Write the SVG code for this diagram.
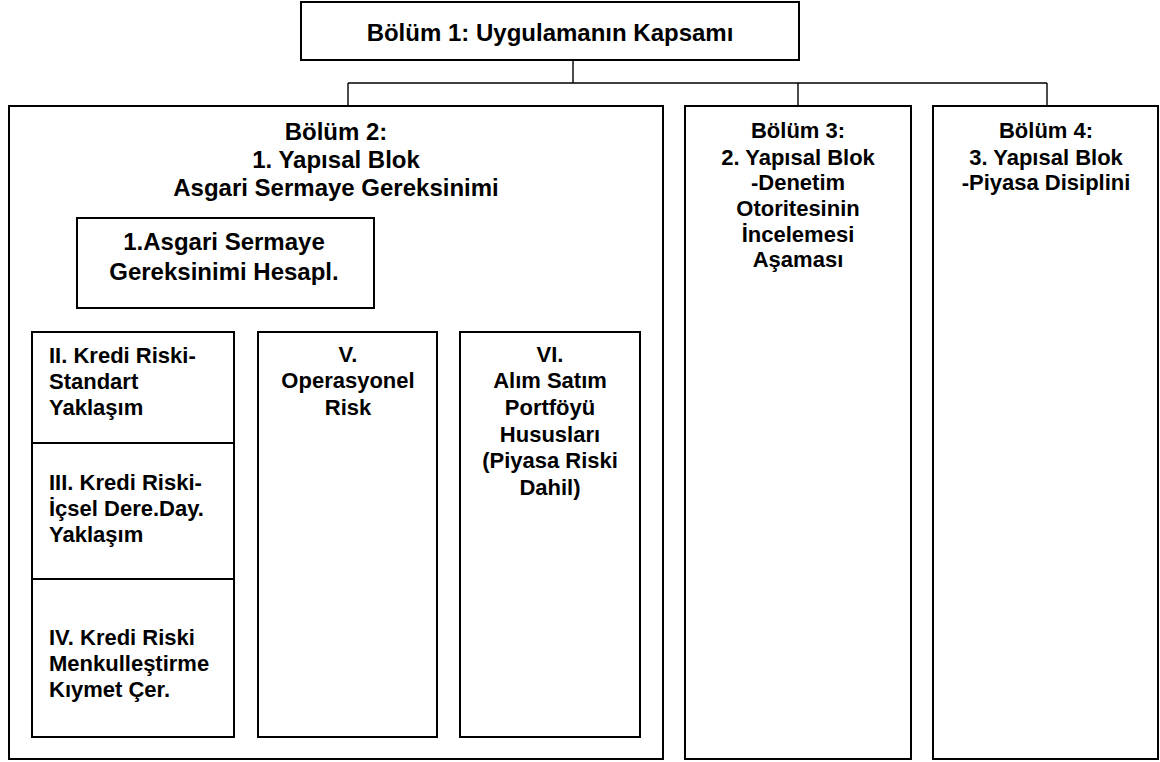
<svg xmlns="http://www.w3.org/2000/svg" width="1160" height="762" viewBox="0 0 1160 762">
  <style>
    .box { fill: #ffffff; stroke: #000000; stroke-width: 2; }
    .div { fill: none; stroke: #000000; stroke-width: 2; }
    .link { fill: none; stroke: #000000; stroke-width: 1.4; }
    text { font-family: "Liberation Sans", Arial, sans-serif; font-weight: bold; fill: #000000; }
    .c { text-anchor: middle; }
    .l { text-anchor: start; }
    .t24 { font-size: 24px; }
    .t22 { font-size: 22px; }
  </style>
  <rect x="0" y="0" width="1160" height="762" fill="#ffffff"/>

  <!-- connectors -->
  <g id="connectors">
    <path class="link" d="M573 60 V83 M348 83 H1047 M348 83 V106 M798 83 V106 M1047 83 V106"/>
    <path class="link" d="M374 308 H549 M122 308 V332 M348 308 V332 M549 308 V332"/>
  </g>

  <!-- Bölüm 1 -->
  <g id="bolum1">
    <rect class="box" x="301" y="2" width="498" height="58"/>
    <text class="c t24" x="550" y="41">Bölüm 1: Uygulamanın Kapsamı</text>
  </g>

  <!-- Bölüm 2 -->
  <g id="bolum2">
    <rect class="box" x="9" y="106" width="654" height="653"/>
    <text class="c t24" x="336" y="140">Bölüm 2:</text>
    <text class="c t24" x="336" y="168">1. Yapısal Blok</text>
    <text class="c t24" x="336" y="196">Asgari Sermaye Gereksinimi</text>
  </g>

  <g id="hesapl">
    <rect class="box" x="77" y="218" width="297" height="90"/>
    <text class="c t24" x="224" y="250">1.Asgari Sermaye</text>
    <text class="c t24" x="224" y="280">Gereksinimi Hesapl.</text>
  </g>

  <!-- Kredi riski column -->
  <g id="kredi-riski">
    <rect class="box" x="32" y="332" width="202" height="405"/>
    <path class="div" d="M32 443 H234 M32 579 H234"/>
    <text class="l t22" x="49" y="363">II. Kredi Riski-</text>
    <text class="l t22" x="49" y="389">Standart</text>
    <text class="l t22" x="49" y="415">Yaklaşım</text>
    <text class="l t22" x="49" y="490">III. Kredi Riski-</text>
    <text class="l t22" x="49" y="516">İçsel Dere.Day.</text>
    <text class="l t22" x="49" y="542">Yaklaşım</text>
    <text class="l t22" x="49" y="645">IV. Kredi Riski</text>
    <text class="l t22" x="49" y="671">Menkulleştirme</text>
    <text class="l t22" x="49" y="697">Kıymet Çer.</text>
  </g>

  <g id="operasyonel">
    <rect class="box" x="258" y="332" width="179" height="405"/>
    <text class="c t22" x="348" y="362">V.</text>
    <text class="c t22" x="348" y="388">Operasyonel</text>
    <text class="c t22" x="348" y="415">Risk</text>
  </g>

  <g id="alim-satim">
    <rect class="box" x="460" y="332" width="180" height="405"/>
    <text class="c t22" x="550" y="362">VI.</text>
    <text class="c t22" x="550" y="388">Alım Satım</text>
    <text class="c t22" x="550" y="415">Portföyü</text>
    <text class="c t22" x="550" y="442">Hususları</text>
    <text class="c t22" x="550" y="468">(Piyasa Riski</text>
    <text class="c t22" x="550" y="495">Dahil)</text>
  </g>

  <!-- Bölüm 3 -->
  <g id="bolum3">
    <rect class="box" x="685" y="106" width="226" height="653"/>
    <text class="c t22" x="798" y="138">Bölüm 3:</text>
    <text class="c t22" x="798" y="165">2. Yapısal Blok</text>
    <text class="c t22" x="798" y="190">-Denetim</text>
    <text class="c t22" x="798" y="216">Otoritesinin</text>
    <text class="c t22" x="798" y="242">İncelemesi</text>
    <text class="c t22" x="798" y="267">Aşaması</text>
  </g>

  <!-- Bölüm 4 -->
  <g id="bolum4">
    <rect class="box" x="933" y="106" width="225" height="653"/>
    <text class="c t22" x="1046" y="138">Bölüm 4:</text>
    <text class="c t22" x="1046" y="165">3. Yapısal Blok</text>
    <text class="c t22" x="1046" y="190">-Piyasa Disiplini</text>
  </g>
</svg>
